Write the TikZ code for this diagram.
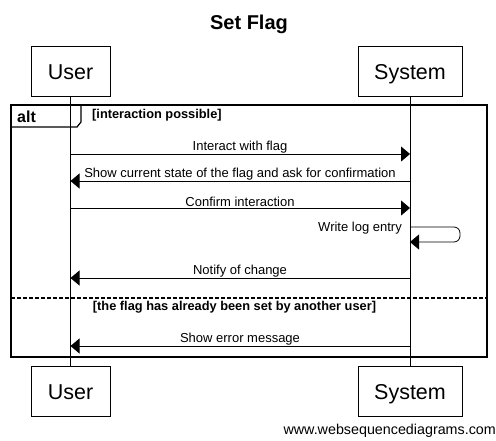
\documentclass[tikz,border=0pt]{standalone}
\usepackage{fontspec}
\setmainfont{Liberation Sans}
\usetikzlibrary{arrows.meta}
\begin{document}
\begin{tikzpicture}[x=1pt,y=-1pt,
  actor/.style={draw,line width=0.8pt,minimum width=79pt,minimum height=50pt,inner sep=0pt,text height=18pt,text depth=2pt,font=\fontsize{21.5}{25}\selectfont,anchor=center},
  msg/.style={line width=0.8pt,-{Triangle[length=9pt,width=15pt]}},
  lbl/.style={font=\fontsize{13}{15}\selectfont,inner sep=0pt},
  guard/.style={font=\bfseries\fontsize{12.8}{15}\selectfont,inner sep=0pt},
  life/.style={line width=0.8pt}]
\useasboundingbox (0,0) rectangle (496,440);
\node[font=\bfseries\fontsize{20}{24}\selectfont] (title) at (249,24) {Set Flag};
\node[actor] (ut) at (70.5,71) {User};
\node[actor,minimum width=104pt] (st) at (410,71) {System};
\node[actor] (ub) at (70.5,391) {User};
\node[actor,minimum width=104pt] (sb) at (410,391) {System};
\draw[life] (ut.south) -- (ub.north);
\draw[life] (st.south) -- (sb.north);
% alt frame
\draw[line width=1.6pt] (11,105) rectangle (487,357);
\draw[line width=1.2pt] (11,127) -- (77,127) -- (81,122) -- (81,105);
\node[font=\bfseries\fontsize{16}{18}\selectfont,anchor=west,inner sep=0pt] (alt) at (17,117) {alt};
\node[guard,anchor=west] (g1) at (92,115) {[interaction possible]};
\draw[line width=1.2pt,dashed,dash pattern=on 4pt off 2pt] (11,298) -- (487,298);
\node[guard] (g2) at (234.5,307.5) {[the flag has already been set by another user]};
% coordinates on lifelines
\coordinate (u1) at (70.5,154); \coordinate (s1) at (410,154);
\coordinate (u2) at (70.5,181); \coordinate (s2) at (410,181);
\coordinate (u3) at (70.5,208); \coordinate (s3) at (410,208);
\coordinate (s4a) at (410,227); \coordinate (s4b) at (410,242);
\coordinate (u5) at (70.5,278); \coordinate (s5) at (410,278);
\coordinate (u6) at (70.5,346); \coordinate (s6) at (410,346);
\draw[msg] (u1) -- (s1);
\node[lbl] (m1) at (240,147.5) {Interact with flag};
\draw[msg] (s2) -- (u2);
\node[lbl] (m2) at (240,174.5) {Show current state of the flag and ask for confirmation};
\draw[msg] (u3) -- (s3);
\node[lbl] (m3) at (240,201.5) {Confirm interaction};
\draw[msg,rounded corners=6pt] (s4a) -- (460,227) -- (460,242) -- (s4b);
\node[lbl,anchor=east] (m4) at (402,228.5) {Write log entry};
\draw[msg] (s5) -- (u5);
\node[lbl] (m5) at (240,271.5) {Notify of change};
\draw[msg] (s6) -- (u6);
\node[lbl] (m6) at (240,339.5) {Show error message};
\node[font=\fontsize{14.3}{16}\selectfont,anchor=east,inner sep=0pt] (www) at (496,431) {www.websequencediagrams.com};
\end{tikzpicture}
\end{document}
